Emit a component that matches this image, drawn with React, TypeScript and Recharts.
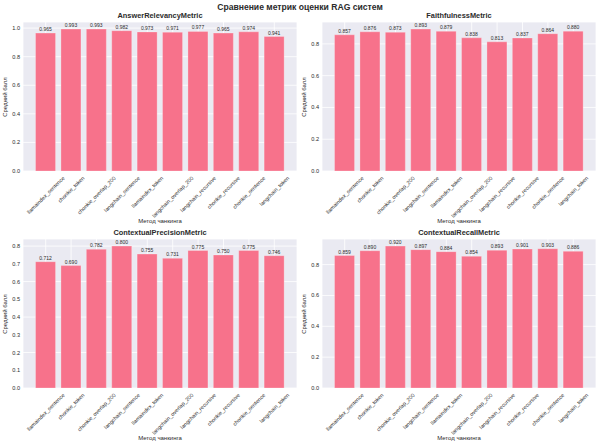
import React from "react";
import { BarChart, Bar, XAxis, YAxis, CartesianGrid, LabelList } from "recharts";

const categories = [
  "llamaindex_sentence",
  "chonkie_token",
  "chonkie_overlap_200",
  "langchain_sentence",
  "llamaindex_token",
  "langchain_overlap_200",
  "langchain_recursive",
  "chonkie_recursive",
  "chonkie_sentence",
  "langchain_token",
];

const answerRelevancy = [0.965, 0.993, 0.993, 0.982, 0.973, 0.971, 0.977, 0.965, 0.974, 0.941];
const faithfulness = [0.857, 0.876, 0.873, 0.893, 0.879, 0.838, 0.813, 0.837, 0.864, 0.88];
const contextualPrecision = [0.712, 0.69, 0.782, 0.8, 0.755, 0.731, 0.775, 0.75, 0.775, 0.746];
const contextualRecall = [0.859, 0.89, 0.92, 0.897, 0.884, 0.854, 0.893, 0.901, 0.903, 0.886];

const ticksFifth = [0, 0.2, 0.4, 0.6, 0.8, 1.0];
const ticksFifthShort = [0, 0.2, 0.4, 0.6, 0.8];
const ticksTenth = [0, 0.1, 0.2, 0.3, 0.4, 0.5, 0.6, 0.7, 0.8];

const FONT = '"Liberation Sans", Arial, sans-serif';
const BAR_COLOR = "#f7728b";
const BG = "#eaeaf2";
const TEXT = "#2b2b2b";

const TICK_FS = 5.4;

let ctx: CanvasRenderingContext2D | null = null;
function measure(text: string, fs: number): number {
  try {
    if (!ctx) {
      const c = document.createElement("canvas");
      ctx = c.getContext("2d");
    }
    if (ctx) {
      ctx.font = `${fs}px "Liberation Sans", Arial, sans-serif`;
      return ctx.measureText(text).width;
    }
  } catch (e) {}
  return text.length * fs * 0.5;
}

const RotTick = (props: any) => {
  const { x, y, payload } = props;
  const label = String(payload.value);
  const w = measure(label, TICK_FS);
  const h = TICK_FS * 1.1;
  const top = y + 4;
  const cy = top + (w + h) / (2 * Math.SQRT2);
  return (
    <text
      x={x}
      y={cy}
      textAnchor="middle"
      dominantBaseline="central"
      fontSize={TICK_FS}
      fontFamily={FONT}
      fill={TEXT}
      transform={`rotate(-45, ${x}, ${cy})`}
    >
      {label}
    </text>
  );
};

type PanelProps = {
  title: string;
  values: number[];
  ticks: number[];
  max: number;
  left: number;
  top: number;
};

const Panel = ({ title, values, ticks, max, left, top }: PanelProps) => {
  const data = categories.map((name, i) => ({ name, value: values[i] }));
  const plotLeft = 23;
  const plotRight = 297;
  const cx = (plotLeft + plotRight) / 2;
  const textBase: React.CSSProperties = {
    position: "absolute",
    fontFamily: FONT,
    color: TEXT,
    whiteSpace: "nowrap",
    lineHeight: 1,
  };
  return (
    <div style={{ position: "absolute", left, top, width: 300, height: 230 }}>
      <BarChart
        width={300}
        height={230}
        data={data}
        margin={{ top: 22, right: 3, bottom: 0, left: 0 }}
        barCategoryGap="10%"
      >
        <CartesianGrid fill={BG} stroke="#ffffff" strokeWidth={0.8} vertical={true} horizontal={true} />
        <XAxis
          dataKey="name"
          interval={0}
          height={59}
          padding={{ left: 10, right: 10 }}
          axisLine={false}
          tickLine={false}
          tickSize={0}
          tickMargin={0}
          tick={<RotTick />}
        />
        <YAxis
          type="number"
          width={23}
          domain={[0, max]}
          ticks={ticks}
          allowDataOverflow={true}
          axisLine={false}
          tickLine={false}
          tickSize={0}
          tickMargin={3}
          tickFormatter={(v: number) => v.toFixed(1)}
          tick={{ fontSize: 5.6, fill: TEXT, fontFamily: FONT }}
        />
        <Bar dataKey="value" fill={BAR_COLOR} stroke="#ffffff" strokeOpacity={0.5} strokeWidth={0.5} isAnimationActive={false}>
          <LabelList
            dataKey="value"
            position="top"
            offset={2}
            fontSize={5}
            fill={TEXT}
            fontFamily={FONT}
            formatter={(v: any) => Number(v).toFixed(3)}
          />
        </Bar>
      </BarChart>
      <div
        style={{
          ...textBase,
          left: cx,
          top: 16,
          transform: "translate(-50%, -50%)",
          fontSize: 7.4,
          fontWeight: "bold",
        }}
      >
        {title}
      </div>
      <div
        style={{
          ...textBase,
          left: cx,
          top: 221,
          transform: "translate(-50%, -50%)",
          fontSize: 6,
        }}
      >
        Метод чанкинга
      </div>
      <div
        style={{
          ...textBase,
          left: 5,
          top: 96.5,
          transform: "translate(-50%, -50%) rotate(-90deg)",
          fontSize: 6,
        }}
      >
        Средний балл
      </div>
    </div>
  );
};

export default function App() {
  return (
    <div
      style={{
        position: "absolute",
        left: 0,
        top: 0,
        width: 600,
        height: 445,
        background: "#ffffff",
        overflow: "hidden",
      }}
    >
      <div
        style={{
          position: "absolute",
          left: 300,
          top: 7,
          transform: "translate(-50%, -50%)",
          fontFamily: FONT,
          fontSize: 8.6,
          fontWeight: "bold",
          color: TEXT,
          whiteSpace: "nowrap",
          lineHeight: 1,
        }}
      >
        Сравнение метрик оценки RAG систем
      </div>
      <Panel title="AnswerRelevancyMetric" values={answerRelevancy} ticks={ticksFifth} max={1.0427} left={0} top={0} />
      <Panel title="FaithfulnessMetric" values={faithfulness} ticks={ticksFifthShort} max={0.9377} left={299} top={0} />
      <Panel title="ContextualPrecisionMetric" values={contextualPrecision} ticks={ticksTenth} max={0.84} left={0} top={217} />
      <Panel title="ContextualRecallMetric" values={contextualRecall} ticks={ticksFifthShort} max={0.966} left={299} top={217} />
    </div>
  );
}
